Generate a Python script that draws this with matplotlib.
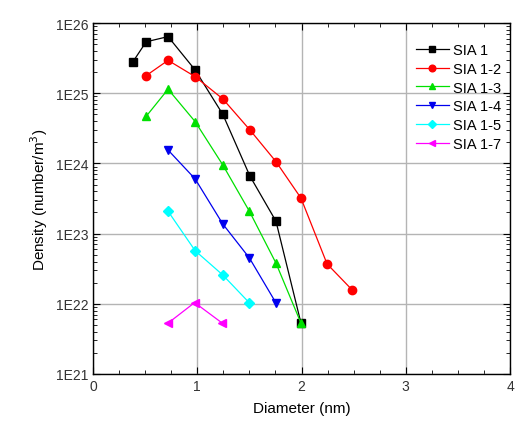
import numpy as np
import matplotlib.pyplot as plt
from matplotlib.ticker import FixedLocator, FuncFormatter, LogLocator, NullFormatter

plt.rcParams['font.family'] = ['Liberation Sans', 'DejaVu Sans']

# values
sia1_d = [0.38, 0.51, 0.72, 0.98, 1.245, 1.505, 1.755, 1.995]
sia1_n = [2.76e25, 5.4e25, 6.4e25, 2.14e25, 5.0e24, 6.6e23, 1.5e23, 5.3e21]

sia12_d = [0.51, 0.72, 0.98, 1.245, 1.505, 1.755, 1.995, 2.245, 2.485]
sia12_n = [1.78e25, 2.94e25, 1.72e25, 8.3e24, 3.0e24, 1.06e24, 3.2e23, 3.7e22, 1.58e22]

sia13_d = [0.51, 0.72, 0.98, 1.245, 1.5, 1.755, 1.995]
sia13_n = [4.68e24, 1.14e25, 3.93e24, 9.5e23, 2.08e23, 3.8e22, 5.3e21]

sia14_d = [0.72, 0.98, 1.245, 1.5, 1.755]
sia14_n = [1.55e24, 6.0e23, 1.37e23, 4.5e22, 1.03e22]

sia15_d = [0.72, 0.98, 1.245, 1.5]
sia15_n = [2.08e23, 5.7e22, 2.57e22, 1.03e22]

sia17_d = [0.72, 0.975, 1.24]
sia17_n = [5.3e21, 1.04e22, 5.3e21]

series = [
    ("SIA 1", sia1_d, sia1_n, "#000000", "s"),
    ("SIA 1-2", sia12_d, sia12_n, "#ff0000", "o"),
    ("SIA 1-3", sia13_d, sia13_n, "#00e000", "^"),
    ("SIA 1-4", sia14_d, sia14_n, "#0000ee", "v"),
    ("SIA 1-5", sia15_d, sia15_n, "#00ffff", "D"),
    ("SIA 1-7", sia17_d, sia17_n, "#ff00ff", "<"),
]

fig = plt.figure(figsize=(5.29, 4.31), dpi=100)
ax = fig.add_axes([0.1758, 0.13, 0.7883, 0.8143])

for name, d, n, col, mk in series:
    ms = 5 if mk == "D" else 6
    ax.plot(d, n, color=col, marker=mk, markersize=ms, linewidth=0.9,
            markeredgecolor=col, label=name)

ax.set_yscale('log')
ax.set_xlim(0, 4)
ax.set_ylim(1e21, 1e26)

ax.xaxis.set_major_locator(FixedLocator([0, 1, 2, 3, 4]))
ax.xaxis.set_minor_locator(FixedLocator(np.arange(0, 4.01, 0.25)))
ax.yaxis.set_major_locator(LogLocator(base=10, numticks=10))
ax.yaxis.set_minor_locator(LogLocator(base=10, subs=np.arange(2, 10), numticks=20))
ax.yaxis.set_minor_formatter(NullFormatter())
ax.yaxis.set_major_formatter(FuncFormatter(lambda v, p: "1E%d" % round(np.log10(v))))

ax.tick_params(which='both', direction='in', top=True, right=True, labelsize=10,
               colors='#000000', labelcolor='#333333')
ax.tick_params(which='major', length=5, width=0.8)
ax.tick_params(which='minor', length=3, width=0.6)

ax.grid(True, which='major', color='#b4b4b4', linewidth=1.0)
ax.set_axisbelow(True)

for sp in ax.spines.values():
    sp.set_linewidth(1.0)

ax.set_xlabel("Diameter (nm)", fontsize=11, labelpad=6)
ax.set_ylabel("Density (number/m$^3$)", fontsize=11, labelpad=4)

leg = ax.legend(loc='upper left', bbox_to_anchor=(0.76, 0.96), frameon=False,
                fontsize=10.5, handlelength=2.25, handletextpad=0.3, labelspacing=0.33,
                borderaxespad=0, markerscale=0.8)

fig.savefig("out.png", dpi=100)
